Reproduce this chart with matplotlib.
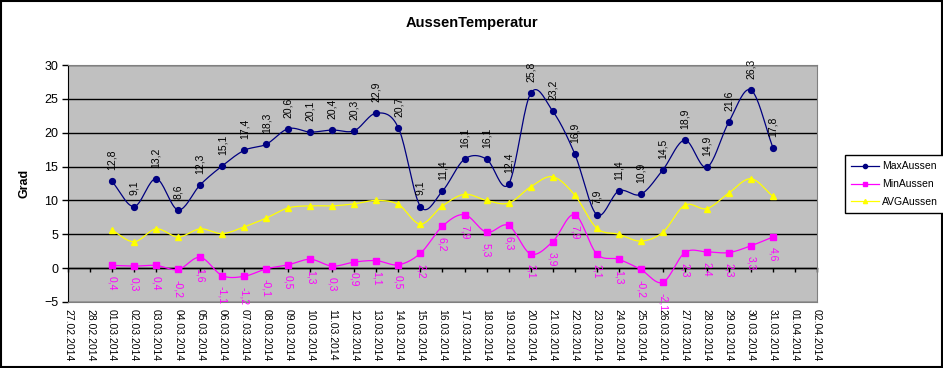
import numpy as np
import pandas as pd
import matplotlib
matplotlib.use("Agg")
from matplotlib import pyplot as plt
import matplotlib.dates as mdates
from matplotlib.patches import Rectangle

plt.rcParams['font.family'] = ['Liberation Sans', 'DejaVu Sans']

# data
axis_start = "2014-02-27"
axis_end = "2014-04-02"
days = pd.date_range("2014-03-01", "2014-03-31")

max_aussen = [12.8, 9.1, 13.2, 8.6, 12.3, 15.1, 17.4, 18.3, 20.6, 20.1, 20.4,
              20.3, 22.9, 20.7, 9.1, 11.4, 16.1, 16.1, 12.4, 25.8, 23.2, 16.9,
              7.9, 11.4, 10.9, 14.5, 18.9, 14.9, 21.6, 26.3, 17.8]
min_aussen = [0.4, 0.3, 0.4, -0.2, 1.6, -1.1, -1.2, -0.1, 0.5, 1.3, 0.3,
              0.9, 1.1, 0.5, 2.2, 6.2, 7.9, 5.3, 6.3, 2.1, 3.9, 7.9,
              2.1, 1.3, -0.2, -2.1, 2.3, 2.4, 2.3, 3.3, 4.6]
avg_aussen = [5.6, 3.9, 5.8, 4.6, 5.8, 5.1, 6.1, 7.4, 8.9, 9.2, 9.2,
              9.5, 10.0, 9.4, 6.5, 9.2, 10.9, 10.0, 9.6, 12.0, 13.5, 10.8,
              5.9, 5.0, 4.0, 5.3, 9.3, 8.8, 11.1, 13.2, 10.6]


def smooth(x, y, n=20):
    # Catmull-Rom curve through the points, like Excel's smoothed line
    x = np.asarray(x, float)
    y = np.asarray(y, float)
    px = np.concatenate([[2 * x[0] - x[1]], x, [2 * x[-1] - x[-2]]])
    py = np.concatenate([[2 * y[0] - y[1]], y, [2 * y[-1] - y[-2]]])
    t = np.linspace(0, 1, n, endpoint=False)[:, None]
    xs, ys = [], []
    for i in range(1, len(px) - 2):
        for p, out in ((px, xs), (py, ys)):
            p0, p1, p2, p3 = p[i - 1], p[i], p[i + 1], p[i + 2]
            out.append((0.5 * (2 * p1 + (-p0 + p2) * t + (2 * p0 - 5 * p1 + 4 * p2 - p3) * t ** 2
                               + (-p0 + 3 * p1 - 3 * p2 + p3) * t ** 3)).ravel())
    return np.concatenate(xs + [[x[-1]]]), np.concatenate(ys + [[y[-1]]])


def fmt(v):
    return ("%.1f" % v).replace(".", ",")


fig = plt.figure(figsize=(9.43, 3.68), dpi=100)
ax = fig.add_axes([68 / 943, 1 - 302 / 368, 749 / 943, 237 / 368])
ax.set_facecolor("#c0c0c0")

xd = mdates.date2num(days)
series = [
    ("MaxAussen", max_aussen, "#000080", "o", 4.2),
    ("MinAussen", min_aussen, "#ff00ff", "s", 4.5),
    ("AVGAussen", avg_aussen, "#ffff00", "^", 4.5),
]
handles = []
for name, vals, col, mk, ms in series:
    sx, sy = smooth(xd, vals)
    ax.plot(sx, sy, color=col, lw=0.9, zorder=3)
    ax.plot(xd, vals, ls="none", marker=mk, ms=ms, color=col, zorder=4)
    handles.append(plt.Line2D([], [], color=col, lw=0.9, marker=mk, ms=3))

for x, v in zip(xd, max_aussen):
    ax.annotate(fmt(v), (x, v), xytext=(0, 8), textcoords="offset points",
                rotation=90, ha="center", va="bottom", fontsize=7.5, color="black", zorder=5)
for x, v in zip(xd, min_aussen):
    ax.annotate(fmt(v), (x, v), xytext=(0, -7.5), textcoords="offset points",
                rotation=-90, ha="center", va="top", fontsize=7.5, color="#ff00ff", zorder=5)

ax.set_ylim(-5, 30)
ax.set_yticks(range(-5, 31, 5))
ax.set_xlim(mdates.datestr2num(axis_start), mdates.datestr2num(axis_end))
ax.xaxis.set_major_locator(mdates.DayLocator())
ax.xaxis.set_major_formatter(mdates.DateFormatter("%d.%m.%Y"))
ax.tick_params(axis="x", length=0, pad=5, labelsize=7.5, labelrotation=-90)
ax.tick_params(axis="y", length=4, width=1, labelsize=9, pad=3)
for lbl in ax.get_xticklabels():
    lbl.set_va("top")
ax.grid(axis="y", color="black", lw=1, zorder=1)
ax.set_axisbelow(True)
for s in ("top", "right", "bottom"):
    ax.spines[s].set_color("#808080")
ax.spines["left"].set_color("black")

# category axis crosses at zero
sec = ax.secondary_xaxis(5 / 35)
sec.xaxis.set_major_locator(mdates.DayLocator())
sec.tick_params(axis="x", direction="out", length=3, width=1, labelbottom=False)
sec.spines["bottom"].set_color("black")
sec.spines["bottom"].set_linewidth(1)

ax.set_ylabel("Grad", fontsize=9, fontweight="bold", labelpad=10)
fig.text(472 / 943, 1 - 23 / 368, "AussenTemperatur", ha="center", va="center",
         fontsize=10.5, fontweight="bold")

leg = fig.legend(handles, [s[0] for s in series], loc="upper left",
                 bbox_to_anchor=(840 / 943, 1 - 150 / 368), fontsize=7.5,
                 fancybox=False, edgecolor="black", framealpha=1,
                 handlelength=2.6, handletextpad=0.3, borderpad=0.6, labelspacing=0.75)
leg.get_frame().set_linewidth(1)

fig.patches.append(Rectangle((0.5 / 943, 1 / 368), 941 / 943, 366 / 368, transform=fig.transFigure,
                             fill=False, edgecolor="black", lw=1.5))

fig.savefig("out.png", dpi=100)
